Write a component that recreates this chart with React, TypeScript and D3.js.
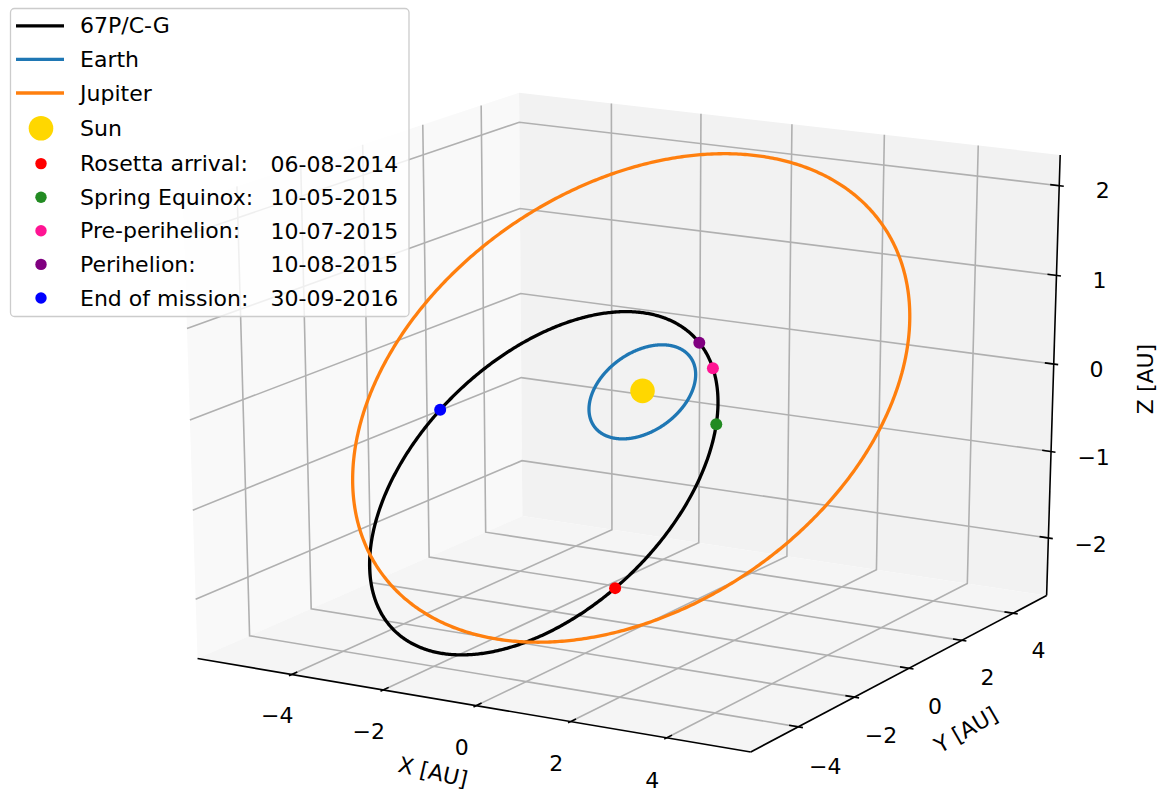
import React from 'react';
import * as d3 from 'd3';

const WIDTH = 1162;
const HEIGHT = 789;

// Heliocentric orbital elements (J2000 ecliptic); angles in degrees
const BODIES = ['67P/C-G', 'Earth', 'Jupiter'];
const SEMI_MAJOR_AU = [3.463, 1.0, 5.2029];
const ECCENTRICITY = [0.641, 0.01671, 0.0484];
const INCLINATION_DEG = [7.0405, 0.0, 1.3053];
const ASC_NODE_DEG = [50.1355, -11.2606, 100.5562];
const ARG_PERIHELION_DEG = [12.7799, 114.2078, 273.8777];
const BODY_COLORS = ['#000000', '#1f77b4', '#ff7f0e'];

// 67P perihelion passage (UTC)
const COMET_PERIHELION_UTC = Date.UTC(2015, 7, 13, 2, 3);

// Mission events along the comet's orbit (dd-mm-yyyy)
const EVENT_NAMES = ['Rosetta arrival:', 'Spring Equinox:', 'Pre-perihelion:', 'Perihelion:', 'End of mission:'];
const EVENT_DATES = ['06-08-2014', '10-05-2015', '10-07-2015', '10-08-2015', '30-09-2016'];
const EVENT_COLORS = ['#ff0000', '#228b22', '#ff1493', '#800080', '#0000ff'];
const SUN_COLOR = '#ffd700';

// Axis limits (AU, equatorial frame) and ticks
const X_LIMITS = [-5.858, 5.484];
const Y_LIMITS = [-5.426, 5.11];
const Z_LIMITS = [-2.574, 2.239];
const X_TICKS = [-4, -2, 0, 2, 4];
const Y_TICKS = [-4, -2, 0, 2, 4];
const Z_TICKS = [-2, -1, 0, 1, 2];

// View
const ELEV = 19;
const AZIM = -60;
const DIST = 10;
const CX = 629.3;
const CY = 406.5;
const KX = 6315;
const KY = 4730;

const FONT = 'DejaVu Sans';
const FS = 22;

const rad = Math.PI / 180;
const OBLIQUITY = 23.4393 * rad;
const GAUSS_K = 0.01720209895; // rad/day

type V3 = [number, number, number];
type V2 = [number, number];

// the drawn box extends past the limits by 1/48 of the range
const padded = ([lo, hi]: number[]) => {
  const p = (hi - lo) / 48;
  return [lo - p, hi + p];
};
const BX = padded(X_LIMITS);
const BY = padded(Y_LIMITS);
const BZ = padded(Z_LIMITS);

const nx = d3.scaleLinear().domain(BX).range([0, 1]);
const ny = d3.scaleLinear().domain(BY).range([0, 1]);
const nz = d3.scaleLinear().domain(BZ).range([0, 1]);

const screenX = d3.scaleLinear().domain([-0.1, 0.1]).range([CX - 0.1 * KX, CX + 0.1 * KX]);
const screenY = d3.scaleLinear().domain([-0.1, 0.1]).range([CY + 0.1 * KY, CY - 0.1 * KY]);

const el = ELEV * rad;
const az = AZIM * rad;
const VN: V3 = [Math.cos(el) * Math.cos(az), Math.cos(el) * Math.sin(az), Math.sin(el)];
const VU: V3 = [-Math.sin(az), Math.cos(az), 0];
const VV: V3 = [-Math.sin(el) * Math.cos(az), -Math.sin(el) * Math.sin(az), Math.cos(el)];
const dot = (a: V3, b: V3) => a[0] * b[0] + a[1] * b[1] + a[2] * b[2];

// perspective projection of normalized box coordinates
function projectN(a: number, b: number, c: number): V2 {
  const q: V3 = [a - 0.5, b - 0.5, c - 0.5];
  const w = DIST - dot(VN, q);
  return [screenX(dot(VU, q) / w), screenY(dot(VV, q) / w)];
}
function project(p: V3): V2 {
  return projectN(nx(p[0]), ny(p[1]), nz(p[2]));
}

// position (equatorial, AU) at eccentric anomaly E
function orbitPoint(i: number, E: number): V3 {
  const a = SEMI_MAJOR_AU[i];
  const e = ECCENTRICITY[i];
  const xo = a * (Math.cos(E) - e);
  const yo = a * Math.sqrt(1 - e * e) * Math.sin(E);
  const w = ARG_PERIHELION_DEG[i] * rad;
  const inc = INCLINATION_DEG[i] * rad;
  const O = ASC_NODE_DEG[i] * rad;
  const cw = Math.cos(w), sw = Math.sin(w);
  const ci = Math.cos(inc), si = Math.sin(inc);
  const cO = Math.cos(O), sO = Math.sin(O);
  const xe = (cO * cw - sO * sw * ci) * xo + (-cO * sw - sO * cw * ci) * yo;
  const ye = (sO * cw + cO * sw * ci) * xo + (-sO * sw + cO * cw * ci) * yo;
  const ze = sw * si * xo + cw * si * yo;
  const ce = Math.cos(OBLIQUITY), se = Math.sin(OBLIQUITY);
  return [xe, ye * ce - ze * se, ye * se + ze * ce];
}

function solveKepler(M: number, e: number) {
  let E = M + e * Math.sin(M);
  for (let k = 0; k < 50; k++) {
    E -= (E - e * Math.sin(E) - M) / (1 - e * Math.cos(E));
  }
  return E;
}

function cometAt(date: string): V3 {
  const [d, m, y] = date.split('-').map(Number);
  const days = (Date.UTC(y, m - 1, d) - COMET_PERIHELION_UTC) / 86400000;
  const n = GAUSS_K / Math.pow(SEMI_MAJOR_AU[0], 1.5);
  return orbitPoint(0, solveKepler(n * days, ECCENTRICITY[0]));
}

const SAMPLES = d3.range(0, 721).map((k) => (k / 720) * 2 * Math.PI);
const line = d3.line<V2>();
const tickText = (t: number) => (t < 0 ? '\u2212' + Math.abs(t) : String(t));

export default function App() {
  const poly = (pts: V3[]) => line(pts.map(project).concat([project(pts[0])])) as string;

  const xPane = poly([[BX[0], BY[0], BZ[0]], [BX[0], BY[1], BZ[0]], [BX[0], BY[1], BZ[1]], [BX[0], BY[0], BZ[1]]]);
  const yPane = poly([[BX[0], BY[1], BZ[0]], [BX[1], BY[1], BZ[0]], [BX[1], BY[1], BZ[1]], [BX[0], BY[1], BZ[1]]]);
  const zPane = poly([[BX[0], BY[0], BZ[0]], [BX[1], BY[0], BZ[0]], [BX[1], BY[1], BZ[0]], [BX[0], BY[1], BZ[0]]]);

  const gridPaths: string[] = [];
  X_TICKS.forEach((t) => gridPaths.push(line([project([t, BY[0], BZ[0]]), project([t, BY[1], BZ[0]]), project([t, BY[1], BZ[1]])]) as string));
  Y_TICKS.forEach((t) => gridPaths.push(line([project([BX[0], t, BZ[1]]), project([BX[0], t, BZ[0]]), project([BX[1], t, BZ[0]])]) as string));
  Z_TICKS.forEach((t) => gridPaths.push(line([project([BX[1], BY[1], t]), project([BX[0], BY[1], t]), project([BX[0], BY[0], t])]) as string));

  const axisPaths = [
    line([project([BX[0], BY[0], BZ[0]]), project([BX[1], BY[0], BZ[0]])]),
    line([project([BX[1], BY[0], BZ[0]]), project([BX[1], BY[1], BZ[0]])]),
    line([project([BX[1], BY[1], BZ[0]]), project([BX[1], BY[1], BZ[1]])]),
  ] as string[];

  const dX = (X_LIMITS[1] - X_LIMITS[0]) / 12;
  const dY = (Y_LIMITS[1] - Y_LIMITS[0]) / 12;
  const tickPaths: string[] = [];
  X_TICKS.forEach((t) => tickPaths.push(line([project([t, BY[0] - 0.1 * dY, BZ[0]]), project([t, BY[0] + 0.2 * dY, BZ[0]])]) as string));
  Y_TICKS.forEach((t) => tickPaths.push(line([project([BX[1] + 0.1 * dX, t, BZ[0]]), project([BX[1] - 0.2 * dX, t, BZ[0]])]) as string));
  Z_TICKS.forEach((t) => tickPaths.push(line([project([BX[1] + 0.1 * dX, BY[1], t]), project([BX[1] - 0.2 * dX, BY[1], t])]) as string));

  const tickLabels: { p: V2; s: string }[] = [];
  X_TICKS.forEach((t) => tickLabels.push({ p: projectN(nx(t), -0.0443, -0.0774), s: tickText(t) }));
  Y_TICKS.forEach((t) => tickLabels.push({ p: projectN(1.0475, ny(t), -0.0767), s: tickText(t) }));
  Z_TICKS.forEach((t) => tickLabels.push({ p: projectN(1.0765, 1, nz(t)), s: tickText(t) }));

  const xMid = projectN(0.5, 0, 0);
  const yMid = projectN(1, 0.5, 0);
  const zMid = projectN(1, 1, 0.5);

  const orbits = BODIES.map((_, i) => line(SAMPLES.map((E) => project(orbitPoint(i, E)))) as string);
  const sun = project([0, 0, 0]);
  const events = EVENT_DATES.map((d) => project(cometAt(d)));

  const rowY = (i: number) => 25.8 + i * 33.6 + (i >= 3 ? 1.7 : 0) + (i >= 4 ? 1.7 : 0);

  return (
    <svg
      width={WIDTH}
      height={HEIGHT}
      style={{ position: 'absolute', left: 0, top: 0, display: 'block' }}
      fontFamily={FONT}
    >
      <rect x={0} y={0} width={WIDTH} height={HEIGHT} fill="#ffffff" />
      <path d={xPane} fill="rgb(249,249,249)" />
      <path d={yPane} fill="rgb(242,242,242)" />
      <path d={zPane} fill="rgb(245,245,245)" />
      <g fill="none" stroke="#b0b0b0" strokeWidth={1.6}>
        {gridPaths.map((d, k) => <path key={k} d={d} />)}
      </g>
      <g fill="none" stroke="#000000" strokeWidth={1.6}>
        {axisPaths.map((d, k) => <path key={k} d={d} />)}
        {tickPaths.map((d, k) => <path key={'t' + k} d={d} />)}
      </g>
      <g fontSize={FS} fill="#000000" textAnchor="middle" dominantBaseline="central">
        {tickLabels.map((l, k) => (
          <text key={k} x={l.p[0]} y={l.p[1]}>{l.s}</text>
        ))}
        <text transform={`translate(${xMid[0] - 34.4},${xMid[1] + 67.9}) rotate(13)`}>X [AU]</text>
        <text transform={`translate(${yMid[0] + 61.2},${yMid[1] + 59.4}) rotate(-30)`}>Y [AU]</text>
        <text transform={`translate(${zMid[0] + 92.7},${zMid[1] + 0.2}) rotate(-90)`}>Z [AU]</text>
      </g>

      <g fill="none" strokeWidth={3.3} strokeLinejoin="round">
        {orbits.map((d, i) => <path key={i} d={d} stroke={BODY_COLORS[i]} />)}
      </g>
      <circle cx={sun[0]} cy={sun[1]} r={12.3} fill={SUN_COLOR} />
      {events.map((p, i) => (
        <circle key={i} cx={p[0]} cy={p[1]} r={6} fill={EVENT_COLORS[i]} />
      ))}

      <g>
        <rect x={10.5} y={8.5} width={398.5} height={308} rx={4} fill="#ffffff" fillOpacity={0.8} stroke="#cccccc" strokeWidth={1.3} />
        {BODIES.map((b, i) => (
          <g key={b}>
            <line x1={16} x2={64} y1={rowY(i)} y2={rowY(i)} stroke={BODY_COLORS[i]} strokeWidth={3.3} />
            <text x={80} y={rowY(i)} fontSize={FS} dominantBaseline="central">{b}</text>
          </g>
        ))}
        <circle cx={41} cy={rowY(3)} r={12.3} fill={SUN_COLOR} />
        <text x={80} y={rowY(3)} fontSize={FS} dominantBaseline="central">Sun</text>
        {EVENT_NAMES.map((name, i) => (
          <g key={name}>
            <circle cx={41} cy={rowY(4 + i)} r={5.7} fill={EVENT_COLORS[i]} />
            <text x={80} y={rowY(4 + i)} fontSize={FS} dominantBaseline="central">
              {name}
              <tspan x={270.5}>{EVENT_DATES[i]}</tspan>
            </text>
          </g>
        ))}
      </g>
    </svg>
  );
}
